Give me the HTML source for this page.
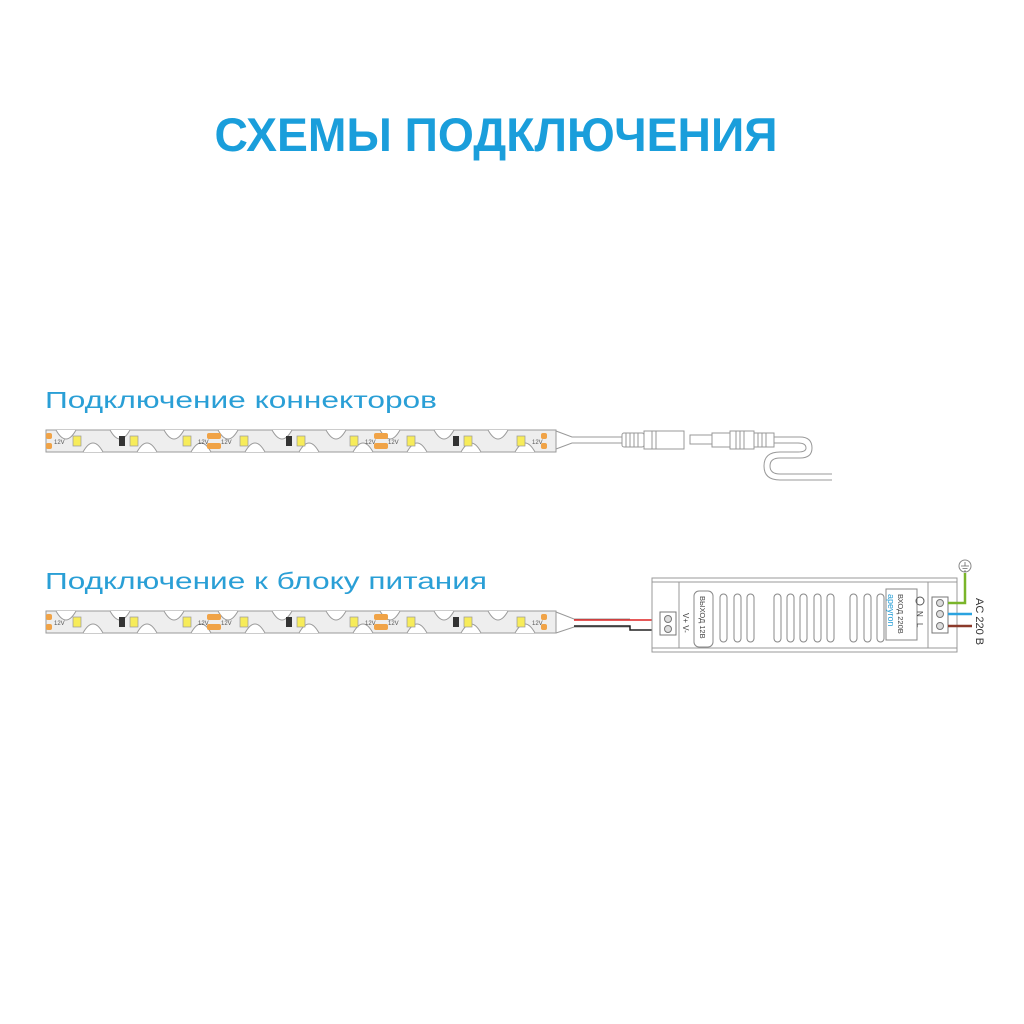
<!DOCTYPE html>
<html><head><meta charset="utf-8"><style>
html,body{margin:0;padding:0;background:#fff;width:1024px;height:1024px;overflow:hidden}
</style></head><body>
<svg id="s" width="1024" height="1024" viewBox="0 0 1024 1024" xmlns="http://www.w3.org/2000/svg" font-family="Liberation Sans, DejaVu Sans, sans-serif">
<rect width="1024" height="1024" fill="#fff"/>
<text x="496" y="151" text-anchor="middle" font-size="47" font-weight="bold" fill="#1a9edb" textLength="563" lengthAdjust="spacingAndGlyphs">СХЕМЫ ПОДКЛЮЧЕНИЯ</text>
<text x="45" y="408" font-size="23" fill="#2a9fd6" textLength="392" lengthAdjust="spacingAndGlyphs">Подключение коннекторов</text>
<text x="45" y="589" font-size="23" fill="#2a9fd6" textLength="442" lengthAdjust="spacingAndGlyphs">Подключение к блоку питания</text>
<g id="st1"></g><g id="st2"></g>

<path d="M556,431 L572,437 L622,437 M556,449 L572,443 L622,443" stroke="#999" fill="none" stroke-width="1"/>
<rect x="622" y="433" width="22" height="14" rx="2" fill="#fff" stroke="#999"/>
<g stroke="#999" stroke-width="1">
<line x1="626" y1="433" x2="626" y2="447"/><line x1="630" y1="433" x2="630" y2="447"/><line x1="634" y1="433" x2="634" y2="447"/><line x1="638" y1="433" x2="638" y2="447"/></g>
<rect x="644" y="431" width="40" height="18" fill="#fff" stroke="#999"/>
<line x1="652" y1="431" x2="652" y2="449" stroke="#999"/><line x1="656" y1="431" x2="656" y2="449" stroke="#999"/>
<rect x="690" y="435" width="22" height="9" fill="#fff" stroke="#999"/>
<rect x="712" y="433" width="18" height="14" fill="#fff" stroke="#999"/>
<rect x="730" y="431" width="24" height="18" fill="#fff" stroke="#999"/>
<line x1="736" y1="431" x2="736" y2="449" stroke="#999"/><line x1="740" y1="431" x2="740" y2="449" stroke="#999"/><line x1="744" y1="431" x2="744" y2="449" stroke="#999"/>
<rect x="754" y="433" width="20" height="14" fill="#fff" stroke="#999"/>
<line x1="758" y1="433" x2="758" y2="447" stroke="#999"/><line x1="762" y1="433" x2="762" y2="447" stroke="#999"/><line x1="766" y1="433" x2="766" y2="447" stroke="#999"/>
<path d="M774,437 L800,437 Q812,437 812,448 Q812,458 800,458 L780,458 Q770,458 770,466 Q770,474 780,474 L832,474" stroke="#999" fill="none"/>
<path d="M774,443 L798,443 Q806,443 806,448 Q806,452 798,452 L780,452 Q764,452 764,466 Q764,480 780,480 L832,480" stroke="#999" fill="none"/>

<path d="M556,612 L574,619 L630,619 M556,633 L574,627 L630,627" stroke="#999" fill="none"/>
<path d="M574,620 L662,620" stroke="#d22" stroke-width="1.5"/>
<path d="M574,626 L630,626 L630,630 L662,630" stroke="#222" stroke-width="1.5" fill="none"/>
<rect x="652" y="578" width="305" height="74" fill="#fff" stroke="#999"/>
<line x1="652" y1="582" x2="957" y2="582" stroke="#999"/>
<line x1="652" y1="648" x2="957" y2="648" stroke="#999"/>
<rect x="679" y="582" width="249" height="66" fill="#fff" stroke="#999"/>
<rect x="694" y="591" width="19" height="56" rx="5" fill="#fff" stroke="#888"/>
<text transform="translate(700,596) rotate(90)" font-size="7.5" fill="#444">ВЫХОД 12В</text>
<g fill="#fff" stroke="#888" id="slots"></g>
<rect x="886" y="589" width="31" height="51" fill="#fff" stroke="#888"/>
<text transform="translate(898,594) rotate(90)" font-size="7.5" fill="#444">ВХОД 220В</text>
<text transform="translate(888,594) rotate(90)" font-size="9" fill="#2a9fd6">apeyron</text>
<circle cx="920" cy="601" r="4" fill="none" stroke="#555"/>
<text transform="translate(917,611) rotate(90)" font-size="8" fill="#444">N</text>
<text transform="translate(917,623) rotate(90)" font-size="8" fill="#444">L</text>
<text transform="translate(683,613) rotate(90)" font-size="8" fill="#444">V+ V-</text>
<rect x="660" y="612" width="16" height="23" fill="#fff" stroke="#777"/>
<circle cx="668" cy="619" r="3.5" fill="#ddd" stroke="#777"/><circle cx="668" cy="629" r="3.5" fill="#ddd" stroke="#777"/>
<rect x="932" y="597" width="16" height="36" fill="#fff" stroke="#777"/>
<circle cx="940" cy="603" r="3.5" fill="#ddd" stroke="#777"/><circle cx="940" cy="614" r="3.5" fill="#ddd" stroke="#777"/><circle cx="940" cy="626" r="3.5" fill="#ddd" stroke="#777"/>
<path d="M948,603 L965,603 L965,573" stroke="#7ab52a" stroke-width="2.5" fill="none"/>
<path d="M948,614 L972,614" stroke="#2aa3e0" stroke-width="2.5"/>
<path d="M948,626 L972,626" stroke="#8b3a2a" stroke-width="2.5"/>
<circle cx="965" cy="566" r="6" fill="#fff" stroke="#888"/>
<path d="M961,566 h8 M962.5,568.5 h5 M964,571 h2 M965,562 v4" stroke="#666" stroke-width="0.8"/>
<text transform="translate(976,598) rotate(90)" font-size="11" fill="#333">AC 220 B</text>
</svg>
<script>
var NS="http://www.w3.org/2000/svg";
function el(p,t,a){var e=document.createElementNS(NS,t);for(var k in a)e.setAttribute(k,a[k]);p.appendChild(e);return e;}
function strip(g,y0){
 var h=22,x0=46,x1=556;
 el(g,'rect',{x:x0,y:y0,width:x1-x0,height:h,fill:'#eeeeee',stroke:'#9a9a9a'});
 for(var x=x0+20,i=0;x<x1-12;x+=27,i++){
  var top=i%2==0;
  var cy=top?y0:y0+h;
  el(g,'path',{d:'M'+(x-10)+','+cy+' q10,'+(top?18:-18)+' 20,0',fill:'#fff',stroke:'#9a9a9a'});
 }
 for(var p=0;p<4;p++){
  var px=x0+p*167;
  el(g,'rect',{x:px+(p==0?0:-6),y:y0+3,width:p==0||p==3?6:14,height:6,rx:2,fill:'#f0a347'});
  el(g,'rect',{x:px+(p==0?0:-6),y:y0+13,width:p==0||p==3?6:14,height:6,rx:2,fill:'#f0a347'});
  if(p<3){
   [27,84,137].forEach(function(o){el(g,'rect',{x:px+o,y:y0+6,width:8,height:10,fill:'#f7ec5a',stroke:'#999','stroke-width':0.7});});
   el(g,'rect',{x:px+73,y:y0+6,width:6,height:10,fill:'#333'});
   var t=el(g,'text',{x:px+8,y:y0+14,'font-size':6,fill:'#555'});t.textContent='12V';
   var t2=el(g,'text',{x:px+152,y:y0+14,'font-size':6,fill:'#555'});t2.textContent='12V';
  }
 }
}
strip(document.getElementById('st1'),430);
strip(document.getElementById('st2'),611);
var s=document.getElementById('slots');
[723,737,750,777,790,803,817,830,853,867,880].forEach(function(x){el(s,'rect',{x:x-3,y:594,width:7,height:48,rx:3.5});});
</script>
</body></html>
